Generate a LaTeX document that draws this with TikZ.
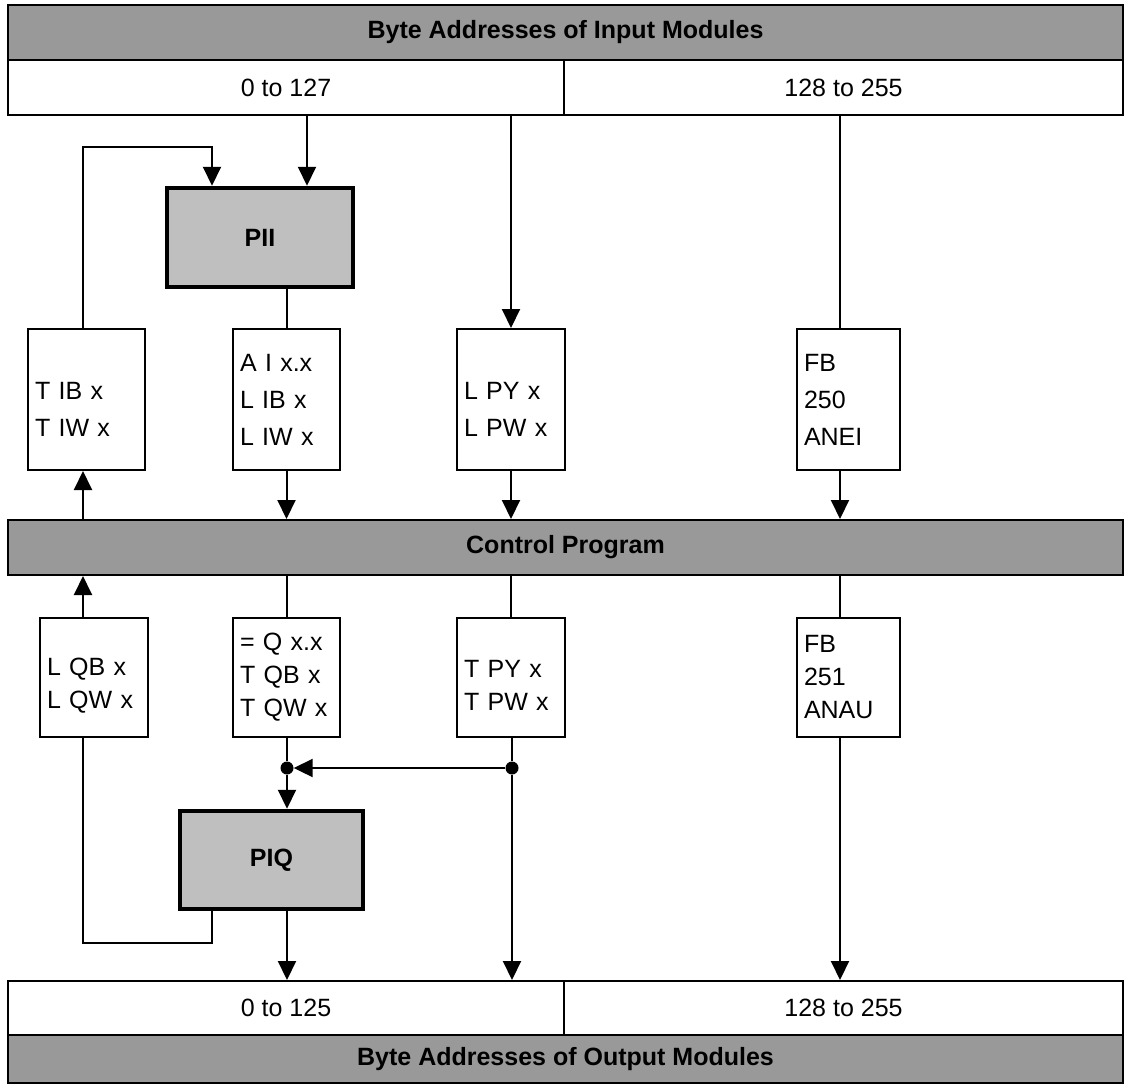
\documentclass[tikz,border=0pt]{standalone}
\usepackage{fontspec}
\setmainfont{Liberation Sans}
\usetikzlibrary{arrows.meta,positioning}

\begin{document}
\begin{tikzpicture}[
    x=1pt, y=-1pt,
    every node/.style={font=\fontsize{25}{34}\selectfont},
    bar/.style={rectangle, draw, line width=2pt, fill=black!40, minimum width=1115pt, font=\fontsize{25}{34}\selectfont\bfseries},
    cell/.style={rectangle, draw, line width=2pt, minimum height=55pt},
    image/.style={rectangle, draw, line width=4.5pt, fill=black!25, font=\fontsize{25}{34}\selectfont\bfseries},
    cmd/.style={rectangle, draw, line width=2pt, align=left, inner xsep=7pt, inner ysep=0pt},
    row1/.style={cmd, minimum height=141pt, font=\fontsize{25}{37}\selectfont},
    row2/.style={cmd, minimum height=119pt, font=\fontsize{25}{33}\selectfont},
    arrow/.style={-{Triangle[length=19pt,width=18pt]}, line width=2pt},
    line/.style={line width=2pt},
    dot/.style={circle, fill, inner sep=0pt, minimum size=13pt}
]
\useasboundingbox (0,0) rectangle (1129,1085);

% Input side
\node[bar, minimum height=55pt] (inbar) at (565.5,32.5) {Byte Addresses of Input Modules};
\node[cell, minimum width=556pt] (in0) at (286,87.5) {0 to 127};
\node[cell, minimum width=559pt] (in1) at (843.5,87.5) {128 to 255};

\node[image, minimum width=186pt, minimum height=99pt] (pii) at (260,237.5) {PII};

\node[row1, text width=103pt] (tib) at (86.5,399.5) {\mbox{}\\T IB x\\T IW x};
\node[row1, text width=93pt] (aib) at (286.5,399.5) {A I x.x\\L IB x\\L IW x};
\node[row1, text width=94pt] (lpy) at (511,399.5) {\mbox{}\\L PY x\\L PW x};
\node[row1, text width=89pt] (fb250) at (848.5,399.5) {FB\\250\\ANEI};

% Control program
\node[bar, minimum height=55pt] (ctrl) at (565.5,547.5) {Control Program};

% Output side
\node[row2, text width=94pt] (lqb) at (94,677.5) {\mbox{}\\L QB x\\L QW x};
\node[row2, text width=93pt] (tqb) at (286.5,677.5) {= Q x.x\\T QB x\\T QW x};
\node[row2, text width=94pt] (tpy) at (511,677.5) {\mbox{}\\T PY x\\T PW x};
\node[row2, text width=89pt] (fb251) at (848.5,677.5) {FB\\251\\ANAU};

\node[dot] (jl) at (287,768) {};
\node[dot] (jr) at (512,768) {};

\node[image, minimum width=183pt, minimum height=98pt] (piq) at (271.5,860) {PIQ};

\node[cell, minimum width=556pt, minimum height=54pt] (out0) at (286,1008) {0 to 125};
\node[cell, minimum width=559pt, minimum height=54pt] (out1) at (843.5,1008) {128 to 255};
\node[bar, minimum height=48pt] (outbar) at (565.5,1059) {Byte Addresses of Output Modules};

% Columns of the connectors
\coordinate (colA) at (83,0);
\coordinate (colB) at (212,0);
\coordinate (colC) at (307,0);
\coordinate (colD) at (840,0);

% Connectors, input side
\draw[arrow] (in0.south -| colC) -- (pii.north -| colC);
\draw[arrow] (tib.north -| colA) -- ++(0,-181) -| (pii.north -| colB);
\draw[line] (pii.south -| aib.north) -- (aib.north);
\draw[arrow] (in0.south -| lpy.north) -- (lpy.north);
\draw[line] (in1.south -| colD) -- (fb250.north -| colD);
\draw[arrow] (ctrl.north -| colA) -- (tib.south -| colA);
\draw[arrow] (aib.south) -- (aib.south |- ctrl.north);
\draw[arrow] (lpy.south) -- (lpy.south |- ctrl.north);
\draw[arrow] (fb250.south -| colD) -- (ctrl.north -| colD);

% Connectors, output side
\draw[arrow] (lqb.north -| colA) -- (ctrl.south -| colA);
\draw[line] (ctrl.south -| tqb.north) -- (tqb.north);
\draw[line] (ctrl.south -| tpy.north) -- (tpy.north);
\draw[line] (ctrl.south -| colD) -- (fb251.north -| colD);
\draw[line] (tqb.south -| jl) -- (jl);
\draw[arrow] (jl) -- (piq.north -| jl);
\draw[arrow] (jr) -- (jl);
\draw[line] (tpy.south -| jr) -- (jr);
\draw[arrow] (jr) -- (out0.north -| jr);
\draw[line] (piq.south -| colB) -- ++(0,32) -| (lqb.south -| colA);
\draw[arrow] (piq.south -| jl) -- (out0.north -| jl);
\draw[arrow] (fb251.south -| colD) -- (out1.north -| colD);

\end{tikzpicture}
\end{document}
